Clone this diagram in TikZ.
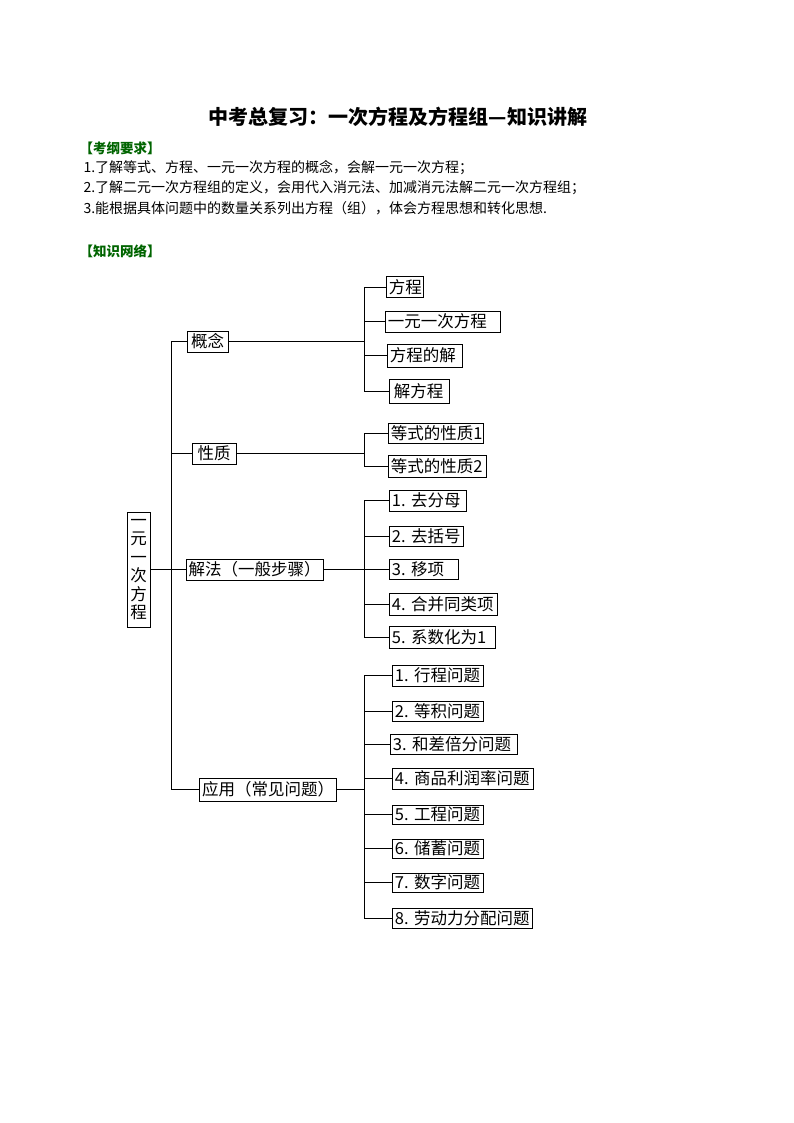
\documentclass[tikz,border=0pt]{standalone}
\usepackage{fontspec}
\setmainfont{Noto Sans CJK SC}
\usetikzlibrary{positioning,shadows}
\definecolor{kgreen}{RGB}{0,100,0}

\begin{document}
\begin{tikzpicture}[x=1pt,y=-1pt,
		box/.style={draw,line width=0.7pt,fill=white,inner xsep=2.5pt,inner ysep=0pt,
			minimum height=21pt,font=\fontsize{16.5}{18}\selectfont,
			drop shadow={shadow xshift=0.8pt,shadow yshift=-0.8pt,fill=black,opacity=0.6}},
		leaf/.style={box,anchor=west,text width=#1,align=left},
		head/.style={anchor=west,text=kgreen,font=\fontsize{13.5}{15}\selectfont\bfseries},
		line/.style={anchor=west,font=\fontsize{14}{16}\selectfont}]
		\useasboundingbox (0,0) rectangle (794,1123);

		% heading and requirements
		\node[font=\fontsize{20}{22}\selectfont\bfseries] (title) at (398,117) {中考总复习：一次方程及方程组—知识讲解};
		\node[head] (h1) at (76,148) {【考纲要求】};
		\node[line] (l1) at (80,168) {1.了解等式、方程、一元一次方程的概念，会解一元一次方程；};
		\node[line] (l2) at (80,188) {2.了解二元一次方程组的定义，会用代入消元法、加减消元法解二元一次方程组；};
		\node[line] (l3) at (80,208) {3.能根据具体问题中的数量关系列出方程（组），体会方程思想和转化思想.};
		\node[head] (h2) at (76,251) {【知识网络】};

		% tree
		\begin{scope}[every node/.style={box}]
			\node[minimum width=23pt,minimum height=115pt,align=center,
				font=\fontsize{16.5}{18.5}\selectfont] (root) at (138.5,569.5) {一\\元\\一\\次\\方\\程};
			\node[minimum width=41pt] (gn) at (207.5,341.5) {概念};
			\node[minimum width=44pt] (xz) at (214,453.5) {性质};
			\node[minimum width=135pt] (jf) at (254.5,569.5) {解法（一般步骤）};
			\node[minimum width=132pt,minimum height=23pt] (yy) at (268,789.5) {应用（常见问题）};
		\end{scope}

		\node[leaf=32pt] (a1) at (386,287) {方程};
		\node[leaf=110pt] (a2) at (385,321.5) {一元一次方程};
		\node[leaf=70pt,minimum height=23pt] (a3) at (387,355.5) {方程的解};
		\node[leaf=55pt,minimum height=24pt] (a4) at (389,391) {\hspace{2pt}解方程};

		\node[leaf=90pt,minimum height=20pt] (b1) at (388,433) {等式的性质1};
		\node[leaf=93pt,minimum height=22pt] (b2) at (388,466) {等式的性质2};

		\node[leaf=72pt] (c1) at (389,500.5) {1.~去分母};
		\node[leaf=69pt,minimum height=20pt] (c2) at (389,536.5) {2.~去括号};
		\node[leaf=64pt,minimum height=20pt] (c3) at (389,569) {3.~移项};
		\node[leaf=103pt,minimum height=22pt] (c4) at (389,604) {4.~合并同类项};
		\node[leaf=101pt,minimum height=22pt] (c5) at (389,637) {5.~系数化为1};

		\node[leaf=86pt] (d1) at (392,675.5) {1.~行程问题};
		\node[leaf=86pt,minimum height=20pt] (d2) at (392,711) {2.~等积问题};
		\node[leaf=122pt,minimum height=20pt] (d3) at (390,744) {3.~和差倍分问题};
		\node[leaf=136pt] (d4) at (392,778.5) {4.~商品利润率问题};
		\node[leaf=86pt,minimum height=19pt] (d5) at (392,814.5) {5.~工程问题};
		\node[leaf=86pt,minimum height=19pt] (d6) at (392,848.5) {6.~储蓄问题};
		\node[leaf=86pt,minimum height=19pt] (d7) at (392,882.5) {7.~数字问题};
		\node[leaf=135pt,minimum height=20pt] (d8) at (392,918) {8.~劳动力分配问题};

		\coordinate (s1) at (171,0);
		\coordinate (s2) at (364,0);

		\begin{scope}[line width=0.7pt]
			\path (root.east) edge (root.east -| s1);
			\draw (gn.west -| s1) -- (yy.west -| s1);
			\foreach \p in {gn,xz,jf,yy} {
				\path (\p.west -| s1) edge (\p.west);
				\path (\p.east) edge (\p.east -| s2);
			}
			\draw (a1.west -| s2) -- (a4.west -| s2);
			\draw (b1.west -| s2) -- (b2.west -| s2);
			\draw (c1.west -| s2) -- (c5.west -| s2);
			\draw (d1.west -| s2) -- (d8.west -| s2);
			\foreach \c in {a1,a2,a3,a4,b1,b2,c1,c2,c3,c4,c5,d1,d2,d3,d4,d5,d6,d7,d8}
				\path (\c.west -| s2) edge (\c.west);
		\end{scope}
	\end{tikzpicture}
\end{document}
